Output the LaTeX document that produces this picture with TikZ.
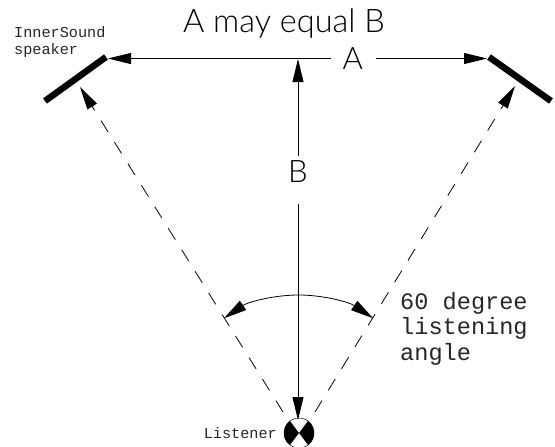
\documentclass[tikz,border=0pt]{standalone}
\usepackage{fontspec}
\setmainfont{Lato}[UprightFont=* Light]
\newfontfamily\cadfont{Liberation Mono}
\usetikzlibrary{arrows.meta}
\tikzset{
  x=1pt,y=-1pt,
  big/.style={inner sep=0pt,font=\fontsize{31}{31}\selectfont},
  ttl/.style={inner sep=0pt,font=\fontsize{32.5}{32.5}\selectfont},
  small/.style={inner sep=0pt,align=left,text=black!85,font=\cadfont\fontsize{15.2}{17.5}\selectfont},
  mid/.style={inner sep=0pt,align=left,text=black!85,font=\cadfont\fontsize{23.6}{25.5}\selectfont},
  dim/.style={line width=0.8pt,-{Triangle[length=23pt,width=11pt]}},
  ddim/.style={dim,dash pattern=on 13.4pt off 12pt},
  spk/.style={line width=6.5pt}
}
\begin{document}
\begin{tikzpicture}
\useasboundingbox (0,0) rectangle (555,447);
\node[ttl,anchor=base] (title) at (284,32) {A may equal B};
\node[big] (A) at (352.7,58.5) {A};
\node[big] (B) at (298,172) {B};
\node[small,anchor=north west] (isp) at (14,26) {InnerSound\\speaker};
\node[mid,anchor=north west] (ang) at (400,292) {60 degree\\listening\\angle};
\node[small,anchor=east] (lis) at (277,433) {Listener};
% speakers
\coordinate (SL1) at (45,101); \coordinate (SL2) at (106,57);
\coordinate (SR1) at (489,57); \coordinate (SR2) at (551,101);
\draw[spk] (SL1) -- (SL2);
\draw[spk] (SR1) -- (SR2);
\coordinate (TL) at (108,58.5); \coordinate (TR) at (487,58.5);
\coordinate (TLs) at (80,87); \coordinate (TRs) at (515,86);
\coordinate (TM) at (298,59);
% listener
\coordinate (L) at (299,433);
\fill[black] (L) -- ++(-9,-12) arc[start angle=233,end angle=127,radius=15] -- cycle;
\fill[black] (L) -- ++(9,-12) arc[start angle=-53,end angle=53,radius=15] -- cycle;
\draw[line width=0.5pt] (L) circle (15);
% dimensions
\draw[dim] (A.west) ++(-11,0) -- (TL);
\draw[dim] (A.east) ++(13,0) -- (TR);
\draw[dim] (B.north) ++(0,-5) -- (TM);
\draw[dim] (B.south) ++(0,21) -- (298,420);
\draw[ddim] (283,412) -- (TLs);
\draw[ddim] (315,412) -- (TRs);
% angle arc
\coordinate (ArcL) at (224,318.3); \coordinate (ArcR) at (373.3,318.3); \coordinate (ArcT) at (298.5,295);
\draw[line width=0.8pt,{Triangle[length=23pt,width=11pt]}-{Triangle[length=23pt,width=11pt]}] (ArcL) .. controls (248,302) and (274,295) .. (ArcT) .. controls (323,295) and (349,302) .. (ArcR);
\end{tikzpicture}
\end{document}
